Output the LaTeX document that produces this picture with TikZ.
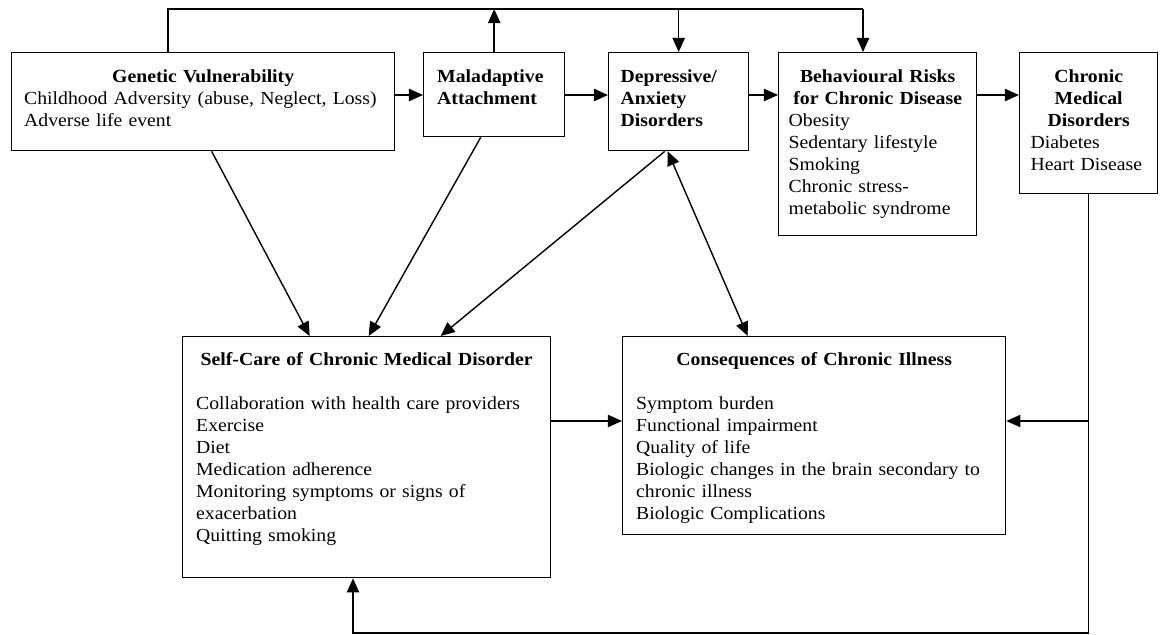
\documentclass[tikz,border=0pt]{standalone}
\usepackage{fontspec}
\setmainfont[FakeStretch=1.07]{Liberation Serif}
\usetikzlibrary{arrows.meta}

\begin{document}
\begin{tikzpicture}[x=0.02cm, y=-0.02cm,
	>={Triangle[length=8pt,width=7pt]},
	box/.style={draw, line width=0.8pt, anchor=north west, inner xsep=0.27cm, inner ysep=0pt,
		text height=0.6cm, align=left, font=\fontsize{10.5}{12.5}\selectfont},
	arr/.style={->, line width=0.8pt}]
	\useasboundingbox (0,0) rectangle (1160,635);
	% top row of boxes
	\node[box, inner xsep=0.25cm, text width=7.16cm, text depth=1.36cm] (gen) at (11,52)
		{{\centering\bfseries Genetic Vulnerability\par}
		\mbox{Childhood Adversity (abuse, Neglect, Loss)}\\ Adverse life event};
	\node[box, text width=2.28cm, text depth=1.08cm] (mal) at (423,52)
		{\bfseries Maladaptive\\ Attachment};
	\node[box, inner xsep=0.24cm, text width=2.32cm, text depth=1.36cm] (dep) at (608,52)
		{\bfseries Depressive/\\ Anxiety\\ Disorders};
	\node[box, inner xsep=0.2cm, text width=3.56cm, text depth=3.06cm] (beh) at (778,52)
		{{\centering\bfseries Behavioural Risks\\ \mbox{for Chronic Disease}\par}
		Obesity\\ Sedentary lifestyle\\ Smoking\\ Chronic stress-\\ metabolic syndrome};
	\node[box, inner xsep=0.22cm, text width=2.32cm, text depth=2.22cm] (chr) at (1019,52)
		{{\centering\bfseries Chronic\\ Medical\\ Disorders\par}
		Diabetes\\ \mbox{Heart Disease}};
	% bottom row of boxes
	\node[box, text width=6.82cm, text height=0.58cm, text depth=4.24cm] (self) at (182,336)
		{{\centering\bfseries Self-Care of Chronic Medical Disorder\par}\vspace{12.5pt}
		\mbox{Collaboration with health care providers}\\ Exercise\\ Diet\\ Medication adherence\\
		Monitoring symptoms or signs of\\ exacerbation\\ Quitting smoking};
	\node[box, text width=7.12cm, text height=0.58cm, text depth=3.38cm] (cons) at (622,336)
		{{\centering\bfseries Consequences of Chronic Illness\par}\vspace{12.5pt}
		Symptom burden\\ Functional impairment\\ Quality of life\\
		\mbox{Biologic changes in the brain secondary to}\\ chronic illness\\ Biologic Complications};
	% helper points for the elbow lines
	\coordinate (row) at (0,95);
	\coordinate (row2) at (0,421);
	\coordinate (top-l) at (168,9);
	\coordinate (top-r) at (863,9);
	\coordinate (loop) at (353,633);
	% arrows along the top row
	\foreach \a/\b in {gen/mal, mal/dep, dep/beh, beh/chr}
		{\draw[arr] (\a.east |- row) -- (\b.west |- row);}
	% line over the top
	\draw[line width=0.8pt] (top-l |- gen.north) -- (top-l) -- (top-r);
	\draw[arr] (mal.north) -- (mal.north |- top-l);
	\draw[arr] (dep.north |- top-l) -- (dep.north);
	\draw[arr] (top-r) -- (top-r |- beh.north);
	% arrows down to self-care
	\draw[arr] ([xshift=0.17cm]gen.south) -- ([xshift=-1.14cm]self.north);
	\draw[arr] ([xshift=-0.27cm]mal.south) -- ([xshift=0.04cm]self.north);
	\draw[arr] ([xshift=-0.28cm]dep.south) -- ([xshift=1.48cm]self.north);
	\draw[arr, <->] ([xshift=-0.22cm]dep.south) -- ([xshift=-1.33cm]cons.north);
	\draw[arr] (self.east |- row2) -- (cons.west |- row2);
	% feedback from chronic medical disorders
	\draw[arr] (chr.south) |- (loop) -- (loop |- self.south);
	\draw[arr] (chr.south |- row2) -- (cons.east |- row2);
\end{tikzpicture}
\end{document}
